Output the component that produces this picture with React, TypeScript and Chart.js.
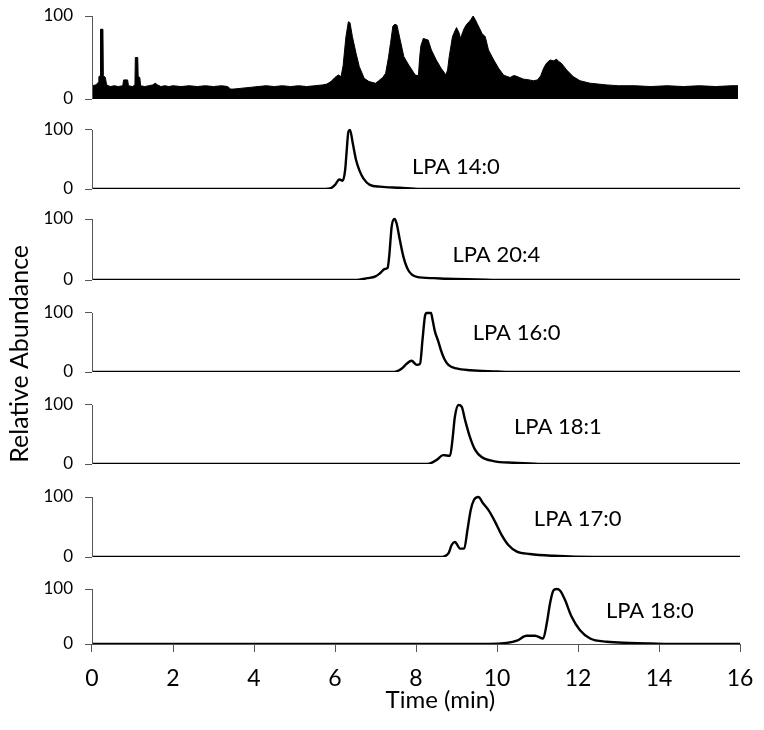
import { useEffect, useRef } from 'react';
import { Chart, registerables } from 'chart.js';

Chart.register(...registerables);

const FONT = 'Lato, "Noto Sans", sans-serif';
const AXIS_COLOR = '#555555';

// ---- Total ion chromatogram (top panel) ----
const ticTime = [0, 0.1, 0.15, 0.17, 0.2, 0.21, 0.27, 0.28, 0.33, 0.36, 0.45, 0.55, 0.65, 0.76, 0.78, 0.88, 0.9, 1.0, 1.06, 1.07, 1.13, 1.14, 1.18, 1.2, 1.3, 1.4, 1.5, 1.56, 1.62, 1.7, 1.8, 1.9, 2.0, 2.2, 2.4, 2.6, 2.8, 3.0, 3.2, 3.35, 3.42, 3.5, 3.7, 3.9, 4.1, 4.3, 4.5, 4.7, 4.9, 5.1, 5.3, 5.5, 5.7, 5.8, 5.9, 6.0, 6.08, 6.15, 6.2, 6.27, 6.33, 6.37, 6.43, 6.52, 6.6, 6.72, 6.84, 7.0, 7.08, 7.18, 7.25, 7.32, 7.37, 7.43, 7.48, 7.53, 7.61, 7.7, 7.82, 7.98, 8.06, 8.09, 8.12, 8.18, 8.24, 8.3, 8.38, 8.5, 8.62, 8.74, 8.78, 8.82, 8.9, 8.96, 9.0, 9.06, 9.1, 9.15, 9.19, 9.25, 9.31, 9.36, 9.41, 9.46, 9.51, 9.57, 9.63, 9.71, 9.79, 9.92, 10.04, 10.16, 10.25, 10.33, 10.4, 10.45, 10.55, 10.65, 10.8, 10.9, 11.0, 11.08, 11.15, 11.22, 11.31, 11.4, 11.47, 11.53, 11.59, 11.72, 11.88, 12.05, 12.3, 12.5, 12.7, 13.0, 13.4, 13.8, 14.2, 14.6, 15.0, 15.4, 15.8, 15.95];
const ticValue = [16, 17, 20, 27, 28, 84, 84, 28, 26, 17, 15, 16, 15, 16, 23, 23, 16, 15, 17, 50, 50, 27, 26, 16, 15, 16, 17, 19, 17, 15, 16, 15, 16, 15, 16, 15, 16, 15, 16, 15, 12, 12, 13, 14, 15, 16, 15, 16, 15, 16, 15, 16, 17, 18, 21, 26, 29, 27, 40, 75, 93, 92, 75, 55, 39, 25, 21, 19, 22, 26, 31, 50, 67, 88, 90, 89, 71, 51, 41, 29, 28, 50, 64, 73, 72, 71, 59, 47, 37, 29, 35, 51, 75, 82, 86, 80, 73, 80, 85, 90, 93, 96, 100, 96, 91, 85, 79, 75, 59, 47, 37, 29, 27, 26, 28, 28, 26, 24, 23, 22, 23, 28, 37, 43, 47, 46, 48, 45, 43, 35, 27, 22, 19, 18, 17, 16, 16, 15, 16, 15, 16, 15, 16, 16];

// ---- Extracted ion chromatograms ----
const lpa140Time = [0, 5.6, 5.88, 6.0, 6.11, 6.19, 6.25, 6.29, 6.33, 6.37, 6.44, 6.52, 6.6, 6.7, 6.86, 7.11, 7.6, 8.1, 16];
const lpa140Value = [0, 0, 1, 7, 16, 14, 32, 66, 97, 100, 77, 49, 32, 18, 7, 4, 2, 0, 0];

const lpa204Time = [0, 6.5, 6.8, 7.0, 7.11, 7.23, 7.3, 7.34, 7.4, 7.47, 7.52, 7.6, 7.69, 7.81, 8.02, 8.43, 8.76, 9.5, 10.2, 16];
const lpa204Value = [0, 0, 3, 6, 11, 18, 20, 40, 88, 100, 93, 66, 38, 16, 5, 3, 2, 1, 0, 0];

const lpa160Time = [0, 7.4, 7.52, 7.65, 7.77, 7.89, 8.02, 8.1, 8.16, 8.22, 8.26, 8.37, 8.41, 8.47, 8.55, 8.62, 8.7, 8.8, 9.0, 9.35, 10.0, 10.3, 16];
const lpa160Value = [0, 0, 1, 6, 14, 19, 12, 14, 54, 94, 100, 100, 88, 68, 52, 36, 22, 12, 6, 3, 1, 0, 0];

const lpa181Time = [0, 8.2, 8.35, 8.51, 8.67, 8.84, 8.9, 8.96, 9.05, 9.13, 9.21, 9.33, 9.46, 9.62, 9.91, 10.4, 10.8, 11.2, 16];
const lpa181Value = [0, 0, 1, 7, 15, 14, 41, 80, 100, 97, 75, 46, 24, 12, 5, 2, 1, 0, 0];

const lpa170Time = [0, 8.6, 8.8, 8.88, 8.96, 9.09, 9.19, 9.27, 9.35, 9.43, 9.54, 9.66, 9.79, 9.95, 10.12, 10.28, 10.49, 10.81, 11.4, 12.4, 16];
const lpa170Value = [0, 0, 6, 20, 25, 14, 14, 45, 78, 95, 100, 89, 78, 59, 36, 20, 9, 5, 2, 0, 0];

const lpa180Time = [0, 9.8, 10.24, 10.49, 10.73, 10.94, 11.14, 11.23, 11.31, 11.39, 11.47, 11.56, 11.68, 11.84, 12.05, 12.3, 12.71, 13.28, 13.78, 14.5, 16];
const lpa180Value = [0, 0, 2, 6, 15, 15, 10, 38, 74, 97, 100, 97, 80, 50, 25, 10, 4, 2, 1, 0, 0];

// ---- Labels ----
const labelNames = ['LPA 14:0', 'LPA 20:4', 'LPA 16:0', 'LPA 18:1', 'LPA 17:0', 'LPA 18:0'];
const labelTimes = [7.9, 8.9, 9.4, 10.42, 10.91, 12.69];
const labelLevels = [37, 41, 66, 63, 63, 60];

const xTitle = 'Time (min)';
const xTitleCenterTime = 8.6;
const yTitle = 'Relative Abundance';

const yTickValues = [0, 100];
const xTickStep = 2;
const xMin = 0;
const xMax = 16;

const panelIds = ['p1', 'p2', 'p3', 'p4', 'p5', 'p6', 'p7'];
const panelWeights = [83, 90, 91, 92, 92, 93, 87];
const panelMax = [100, 152.5, 149.2, 155.9, 155.9, 155, 158.2];

const toPoints = (t: number[], v: number[]) => t.map((x, i) => ({ x, y: v[i] }));

const overlayPlugin = {
  id: 'overlay',
  afterDatasetsDraw(chart: any) {
    const ctx = chart.ctx as CanvasRenderingContext2D;
    const xs = chart.scales.x;
    const area = chart.chartArea;
    ctx.save();
    ctx.strokeStyle = AXIS_COLOR;
    ctx.lineWidth = 1;
    const px = Math.round(area.left) + 0.5;
    panelIds.forEach((id) => {
      const s = chart.scales[id];
      ctx.beginPath();
      ctx.moveTo(px, s.getPixelForValue(0));
      ctx.lineTo(px, s.getPixelForValue(100));
      ctx.stroke();
    });
    ctx.fillStyle = '#000';
    ctx.font = `22px ${FONT}`;
    ctx.textAlign = 'left';
    ctx.textBaseline = 'middle';
    labelNames.forEach((name, i) => {
      const s = chart.scales[panelIds[i + 1]];
      ctx.fillText(name, xs.getPixelForValue(labelTimes[i]), s.getPixelForValue(labelLevels[i]));
    });
    ctx.font = `24px ${FONT}`;
    ctx.textAlign = 'center';
    ctx.fillText(xTitle, xs.getPixelForValue(xTitleCenterTime), 700);
    ctx.font = `25px ${FONT}`;
    ctx.translate(20, area.top + (area.bottom - area.top) * 0.538);
    ctx.rotate(-Math.PI / 2);
    ctx.fillText(yTitle, 0, 0);
    ctx.restore();
  },
};

export default function App() {
  const canvasRef = useRef<HTMLCanvasElement | null>(null);

  useEffect(() => {
    if (!canvasRef.current) return;
    const series = [
      [lpa140Time, lpa140Value],
      [lpa204Time, lpa204Value],
      [lpa160Time, lpa160Value],
      [lpa181Time, lpa181Value],
      [lpa170Time, lpa170Value],
      [lpa180Time, lpa180Value],
    ];
    const datasets: any[] = [
      {
        label: 'TIC',
        data: toPoints(ticTime, ticValue),
        yAxisID: 'p1',
        borderColor: '#000',
        backgroundColor: '#000',
        borderWidth: 1,
        pointRadius: 0,
        fill: 'origin',
        tension: 0,
      },
      ...series.map(([t, v], i) => ({
        label: labelNames[i],
        data: toPoints(t, v),
        yAxisID: panelIds[i + 1],
        borderColor: '#000',
        borderWidth: 2.4,
        pointRadius: 0,
        fill: false,
        cubicInterpolationMode: 'monotone',
      })),
    ];

    const scales: any = {
      x: {
        type: 'linear',
        min: xMin,
        max: xMax,
        position: 'bottom',
        afterFit: (s: any) => { s.height = 86; s.paddingLeft = 0; s.paddingRight = 0; },
        ticks: { stepSize: xTickStep, color: '#000', font: { family: FONT, size: 23 }, padding: 13 },
        grid: { drawOnChartArea: false, tickLength: 8, color: AXIS_COLOR },
        border: { display: true, color: AXIS_COLOR },
        title: { display: false },
      },
    };
    panelIds.forEach((id, i) => {
      scales[id] = {
        type: 'linear',
        position: 'left',
        stack: 'panels',
        stackWeight: panelWeights[i],
        weight: panelIds.length - i,
        min: 0,
        max: panelMax[i],
        afterFit: (s: any) => { s.width = 92; s.paddingTop = 0; s.paddingBottom = 0; },
        afterBuildTicks: (s: any) => { s.ticks = yTickValues.map((value) => ({ value })); },
        ticks: { color: '#000', font: { family: FONT, size: 17 }, padding: 12, autoSkip: false, callback: (v: any) => String(v) },
        grid: { drawOnChartArea: false, tickLength: 7, color: AXIS_COLOR },
        border: { display: false },
      };
    });

    const chart = new Chart(canvasRef.current, {
      type: 'line',
      data: { datasets },
      options: {
        animation: false,
        responsive: true,
        maintainAspectRatio: false,
        layout: { padding: { top: 16, right: 24, left: 0, bottom: 0 } },
        plugins: { legend: { display: false }, tooltip: { enabled: false } },
        scales,
      },
      plugins: [overlayPlugin],
    });
    return () => chart.destroy();
  }, []);

  return (
    <div style={{ position: 'absolute', left: 0, top: 0, width: 764, height: 730, background: '#fff' }}>
      <canvas ref={canvasRef} />
    </div>
  );
}
